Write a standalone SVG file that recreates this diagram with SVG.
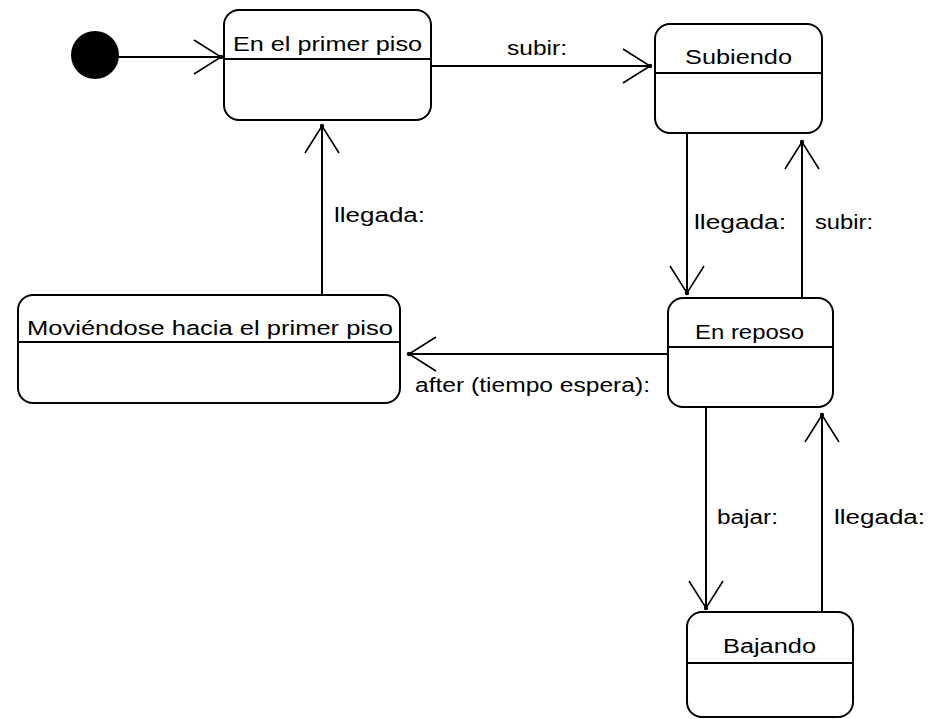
<svg xmlns="http://www.w3.org/2000/svg" width="942" height="719" viewBox="0 0 942 719">
<defs>
<style>
.st{fill:#fff;stroke:#000;stroke-width:2}
.dv{stroke:#000;stroke-width:2}
.t{font-family:"Liberation Sans",Arial,sans-serif;font-size:20px;fill:#000}
.c{fill:none;stroke:#000;stroke-width:2}
</style>
<marker id="ah" markerUnits="userSpaceOnUse" viewBox="-30 -20 34 40" refX="0" refY="0" markerWidth="34" markerHeight="40" orient="auto">
<path d="M-27,-17 L0,0 L-27,17" fill="none" stroke="#000" stroke-width="1.6"/>
<circle cx="0" cy="0" r="2.2" fill="#000"/>
</marker>
</defs>
<rect width="942" height="719" fill="#fff"/>
<g id="connectors">
<line class="c" x1="118" y1="57" x2="221" y2="57" marker-end="url(#ah)"/>
<line class="c" x1="431" y1="66" x2="650" y2="66" marker-end="url(#ah)"/>
<line class="c" x1="687" y1="133" x2="687" y2="293" marker-end="url(#ah)"/>
<line class="c" x1="802" y1="298" x2="802" y2="142" marker-end="url(#ah)"/>
<line class="c" x1="668" y1="354" x2="409" y2="354" marker-end="url(#ah)"/>
<line class="c" x1="322" y1="295" x2="322" y2="126" marker-end="url(#ah)"/>
<line class="c" x1="706" y1="408" x2="706" y2="608" marker-end="url(#ah)"/>
<line class="c" x1="822" y1="612" x2="822" y2="415" marker-end="url(#ah)"/>
<text class="t" x="507" y="55" textLength="60" lengthAdjust="spacingAndGlyphs">subir:</text>
<text class="t" x="694" y="229" textLength="92" lengthAdjust="spacingAndGlyphs">llegada:</text>
<text class="t" x="815" y="229" textLength="58" lengthAdjust="spacingAndGlyphs">subir:</text>
<text class="t" x="415" y="392" textLength="235" lengthAdjust="spacingAndGlyphs">after (tiempo espera):</text>
<text class="t" x="334" y="222" textLength="91" lengthAdjust="spacingAndGlyphs">llegada:</text>
<text class="t" x="717" y="524" textLength="61" lengthAdjust="spacingAndGlyphs">bajar:</text>
<text class="t" x="834" y="524" textLength="91" lengthAdjust="spacingAndGlyphs">llegada:</text>
</g>
<g id="initial">
<circle cx="95" cy="55" r="24" fill="#000"/>
</g>
<g id="primer-piso">
<rect class="st" x="224" y="10" width="207" height="110" rx="15" ry="15"/>
<line class="dv" x1="224" y1="59" x2="431" y2="59"/>
<text class="t" x="233" y="51" textLength="189" lengthAdjust="spacingAndGlyphs">En el primer piso</text>
</g>
<g id="subiendo">
<rect class="st" x="655" y="24" width="167" height="109" rx="15" ry="15"/>
<line class="dv" x1="655" y1="73" x2="822" y2="73"/>
<text class="t" x="685" y="64" textLength="107" lengthAdjust="spacingAndGlyphs">Subiendo</text>
</g>
<g id="reposo">
<rect class="st" x="668" y="298" width="165" height="109" rx="15" ry="15"/>
<line class="dv" x1="668" y1="347" x2="833" y2="347"/>
<text class="t" x="695" y="339" textLength="109" lengthAdjust="spacingAndGlyphs">En reposo</text>
</g>
<g id="moviendose">
<rect class="st" x="18" y="295" width="382" height="108" rx="15" ry="15"/>
<line class="dv" x1="18" y1="342" x2="400" y2="342"/>
<text class="t" x="27" y="335" textLength="366" lengthAdjust="spacingAndGlyphs">Moviéndose hacia el primer piso</text>
</g>
<g id="bajando">
<rect class="st" x="687" y="612" width="166" height="105" rx="15" ry="15"/>
<line class="dv" x1="687" y1="663" x2="853" y2="663"/>
<text class="t" x="723" y="653" textLength="93" lengthAdjust="spacingAndGlyphs">Bajando</text>
</g>
</svg>
